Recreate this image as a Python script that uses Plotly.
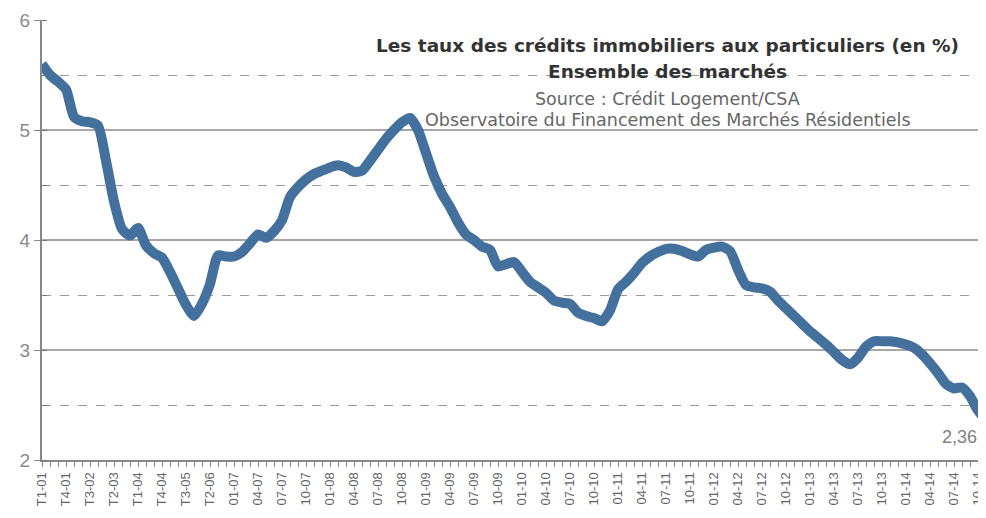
import plotly.graph_objects as go

# Categories: quarterly 2001-2006, then monthly 01-07 .. 11-14
quarters = [f"T{q}-{y:02d}" for y in range(1, 7) for q in range(1, 5)]
months = [f"{m:02d}-{y:02d}" for y in range(7, 15) for m in range(1, 13)][:95]
categories = quarters + months

rates = [5.60, 5.50, 5.44, 5.37, 5.12, 5.08, 5.07, 5.04, 4.72, 4.35,
         4.10, 4.04, 4.11, 3.95, 3.88, 3.84, 3.71, 3.56, 3.41, 3.31,
         3.42, 3.60, 3.86, 3.85,
         3.85, 3.89, 3.97, 4.05, 4.02, 4.08, 4.18, 4.39, 4.48, 4.55,
         4.60, 4.63, 4.66, 4.68, 4.66, 4.62, 4.63, 4.72, 4.82, 4.92,
         5.00, 5.07, 5.11, 5.00, 4.79, 4.58, 4.42, 4.30, 4.16, 4.05,
         4.00, 3.94, 3.91, 3.76, 3.78, 3.80, 3.71, 3.62, 3.57, 3.52,
         3.45, 3.43, 3.42, 3.34, 3.31, 3.29, 3.26, 3.36, 3.55, 3.62,
         3.70, 3.79, 3.85, 3.89, 3.92, 3.92, 3.90, 3.87, 3.85, 3.91,
         3.93, 3.94, 3.90, 3.73, 3.59, 3.57, 3.56, 3.53, 3.45, 3.38,
         3.31, 3.24, 3.17, 3.11, 3.05, 2.98, 2.91, 2.87, 2.93, 3.03,
         3.08, 3.08, 3.08, 3.07, 3.05, 3.02, 2.96, 2.88, 2.79, 2.69,
         2.65, 2.66, 2.58, 2.45, 2.36]

y_ticks = [2, 3, 4, 5, 6]
last_label = "2,36"

idx = list(range(len(categories)))
ticktext = [c if i % 3 == 0 else "" for i, c in enumerate(categories)]

fig = go.Figure()
fig.add_trace(go.Scatter(
    x=idx, y=rates, mode="lines",
    line=dict(color="#44709d", width=10, shape="spline", smoothing=0.6),
    hoverinfo="skip", showlegend=False,
))

# page body has an 8px margin: figure is sized/offset to fill the window
fig.update_layout(
    width=978, height=510,
    margin=dict(l=34, r=0, t=12, b=58, autoexpand=False),
    paper_bgcolor="white", plot_bgcolor="white",
    font=dict(family="Liberation Sans, Arial, sans-serif"),
    xaxis=dict(
        range=[0, len(categories) - 1], automargin=False,
        tickmode="array", tickvals=idx, ticktext=ticktext,
        tickangle=-90, ticks="outside", ticklen=5, tickcolor="#888",
        tickfont=dict(size=13, color="#666666"),
        showgrid=False, showline=True, linecolor="#888", linewidth=2,
        zeroline=False,
    ),
    yaxis=dict(
        range=[2, 6], tickvals=y_ticks, automargin=False,
        ticks="outside", ticklen=6, tickcolor="#888",
        tickfont=dict(size=19, color="#8a8a8a"),
        showgrid=True, gridcolor="#a6a6a6", gridwidth=1.5,
        showline=True, linecolor="#888", linewidth=2, zeroline=False,
        minor=dict(dtick=0.5, showgrid=True, griddash="dash",
                   gridcolor="#9a9a9a", gridwidth=1.2,
                   ticks="inside", ticklen=5, tickcolor="#777"),
    ),
)

title_font = "DejaVu Sans, Liberation Sans, sans-serif"
def note(text, y, size, color):
    fig.add_annotation(xref="paper", yref="paper", x=0.663, y=y,
                       xanchor="center", yanchor="middle", text=text,
                       showarrow=False,
                       font=dict(family=title_font, size=size, color=color))

note("<b>Les taux des crédits immobiliers aux particuliers (en %)</b>", 0.941, 18.5, "#333333")
note("<b>Ensemble des marchés</b>", 0.882, 18.5, "#333333")
note("Source : Crédit Logement/CSA", 0.82, 17.5, "#666666")
note("Observatoire du Financement des Marchés Résidentiels", 0.772, 17.5, "#666666")

fig.add_annotation(x=114.7, y=2.21, text=last_label, showarrow=False,
                   font=dict(size=18, color="#7f7f7f"))

fig.write_html("out.html")
